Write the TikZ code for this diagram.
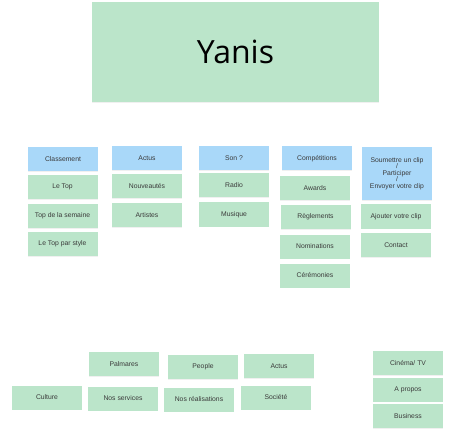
\documentclass[tikz,border=0pt]{standalone}
\usepackage{fontspec}
\setmainfont{Liberation Sans}
\newfontfamily\titlefont{Open Sans}
\usetikzlibrary{positioning,shadows}
\definecolor{mint}{HTML}{BBE5CA}
\definecolor{sky}{HTML}{A9D8F9}
\definecolor{ink}{HTML}{3A3A3A}
\begin{document}
\begin{tikzpicture}[x=1bp,y=-1bp,
  card/.style={shape=rectangle,fill=mint,minimum width=70bp,minimum height=24bp,
    inner sep=1bp,text=ink,font=\fontsize{6.8bp}{8bp}\selectfont,align=center,
    drop shadow={shadow xshift=0bp,shadow yshift=-0.8bp,opacity=0.12}},
  head/.style={card,fill=sky}]
\useasboundingbox (0,0) rectangle (462,437);
\node[shape=rectangle,fill=mint,minimum width=287bp,minimum height=100bp,
  font=\titlefont\fontsize{32bp}{36bp}\selectfont,
  drop shadow={shadow xshift=0bp,shadow yshift=-1.5bp,opacity=0.12}] (Y) at (235.5,52) {Yanis};
% first column
\node[head] (C0) at (63,159) {Classement};
\node[card] (C1) at (62.5,187) {Le Top};
\node[card] (C2) at (62.5,216) {Top de la semaine};
\node[card] (C3) at (62.5,244) {Le Top par style};
% second column
\node[head] (A0) at (147,158.5) {Actus};
\node[card] (A1) at (147,186.5) {Nouveaut\'es};
\node[card] (A2) at (147,215) {Artistes};
% third column
\node[head] (S0) at (234,158.5) {Son ?};
\node[card] (S1) at (234,185) {Radio};
\node[card] (S2) at (234,214.5) {Musique};
% fourth column
\node[head] (P0) at (317,158.5) {Comp\'etitions};
\node[card] (P1) at (315,188) {Awards};
\node[card] (P2) at (315.5,217) {R\`eglements};
\node[card] (P3) at (315,246.5) {Nominations};
\node[card] (P4) at (315,275.5) {C\'er\'emonies};
% fifth column
\node[head,minimum height=53bp] (U0) at (397,173.5)
  {Soumettre un clip\\[-1.5bp]/\\[-1.5bp]Participer\\[-1.5bp]/\\[-1.5bp]Envoyer votre clip};
\node[card] (U1) at (396,216.5) {Ajouter votre clip};
\node[card] (U2) at (396,245) {Contact};
% bottom group
\node[card] (B1) at (124,364) {Palmares};
\node[card] (B2) at (203,367) {People};
\node[card] (B3) at (279,366) {Actus};
\node[card] (B4) at (47,397.5) {Culture};
\node[card] (B5) at (123,398.5) {Nos services};
\node[card] (B6) at (199,399.5) {Nos r\'ealisations};
\node[card] (B7) at (276,397.5) {Soci\'et\'e};
% right stack
\node[card] (R1) at (408,363) {Cin\'ema/ TV};
\node[card] (R2) at (408,389.5) {A propos};
\node[card] (R3) at (408,416) {Business};
\end{tikzpicture}
\end{document}
